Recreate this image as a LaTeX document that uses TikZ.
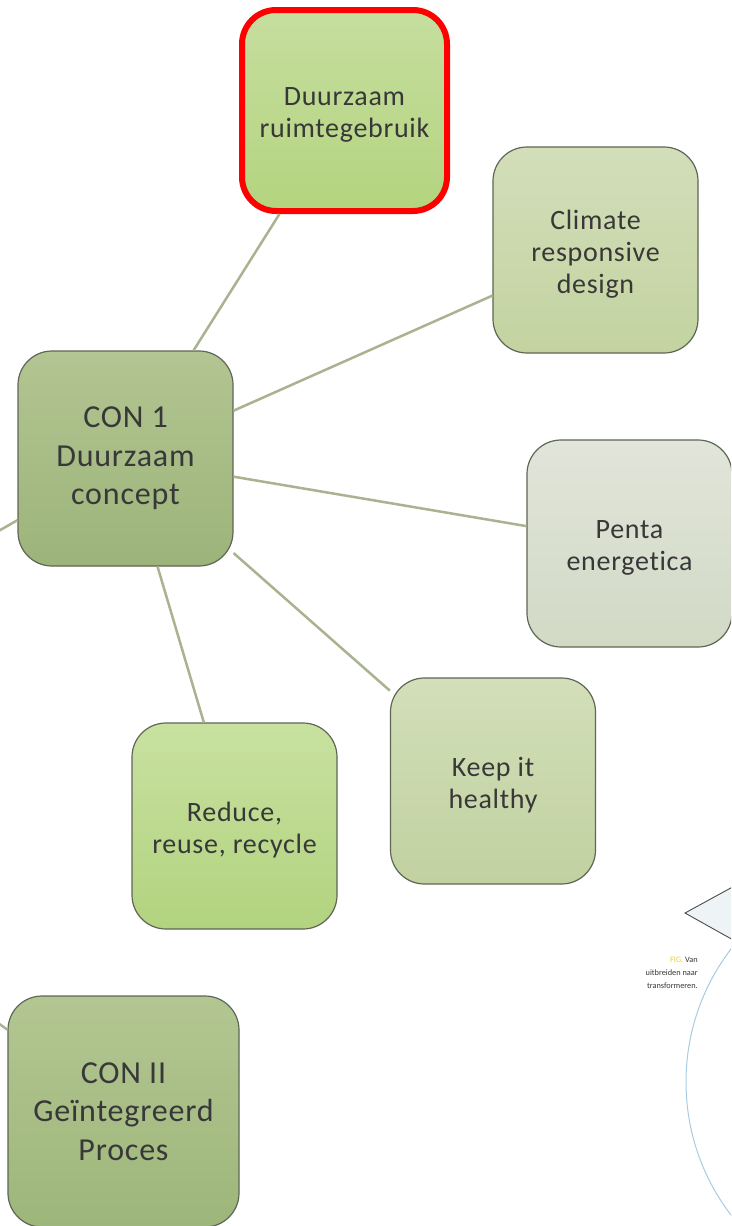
\documentclass[tikz,border=0pt]{standalone}
\usepackage{fontspec}
\setmainfont[LetterSpace=2.5,Ligatures=NoCommon]{Carlito}
\newfontfamily\figfont{Carlito}
\definecolor{txt}{HTML}{383838}
\definecolor{edge}{HTML}{5E6656}
\definecolor{conn}{HTML}{A9B38F}
\definecolor{arcblue}{HTML}{A8CCE0}
\definecolor{figyellow}{HTML}{F0D020}
\newcommand{\pushdown}{\rule{0pt}{27pt}}
\begin{document}
\begin{tikzpicture}[x=1pt,y=-1pt,
  box/.style={draw=edge, line width=1.2pt, rounded corners=34pt, minimum width=205pt, minimum height=206pt,
    text=txt, align=center, inner sep=0pt, font=\fontsize{28}{32}\selectfont},
  bigbox/.style={box, font=\fontsize{32}{38.5}\selectfont},
  link/.style={draw=conn, line width=2.5pt}]
\clip (0,0) rectangle (731,1226);
\fill[white] (0,0) rectangle (731,1226);
\node[box, draw=red, line width=6pt, minimum width=205pt, minimum height=201pt, top color={rgb,255:red,198;green,222;blue,159}, bottom color={rgb,255:red,180;green,212;blue,127}] (dr) at (344.5,110.5) {\pushdown Duurzaam\\ruimtegebruik};
\node[box, top color={rgb,255:red,211;green,222;blue,186}, bottom color={rgb,255:red,195;green,211;blue,160}] (cl) at (595.5,250) {\pushdown Climate\\responsive\\design};
\node[bigbox, minimum width=215pt, minimum height=215pt, top color={rgb,255:red,179;green,197;blue,146}, bottom color={rgb,255:red,156;green,180;blue,122}] (c1) at (125.5,458.5) {CON 1\\Duurzaam\\concept};
\node[box, minimum height=207pt, top color={rgb,255:red,225;green,229;blue,218}, bottom color={rgb,255:red,210;green,217;blue,197}] (pe) at (629.5,543.5) {\pushdown Penta\\energetica};
\node[box, top color={rgb,255:red,210;green,223;blue,185}, bottom color={rgb,255:red,193;green,209;blue,160}] (kh) at (493,781) {\pushdown Keep it\\healthy};
\node[box, top color={rgb,255:red,200;green,225;blue,160}, bottom color={rgb,255:red,178;green,211;blue,127}] (rr) at (234.5,826) {\pushdown Reduce,\\reuse, recycle};
\node[bigbox, minimum width=231pt, minimum height=231pt, top color={rgb,255:red,179;green,198;blue,146}, bottom color={rgb,255:red,157;green,182;blue,122}] (c2) at (123.5,1111.5) {CON II\\Geïntegreerd\\Proces};
\coordinate (offA) at (-100,587.5);
\coordinate (offB) at (-100,953.8);
\draw[link] (c1) -- (dr);
\draw[link] (c1) -- (cl);
\draw[link] (c1) -- (pe);
\draw[link] (c1) -- (kh);
\draw[link] (c1) -- (rr);
\draw[link] (c1) -- (offA);
\draw[link] (c2) -- (offB);
\draw[draw=black!70, fill={rgb,255:red,238;green,243;blue,246}, line width=0.9pt] (760,872) -- (685,913) -- (760,955);
\draw[arcblue, line width=1pt] (905,1082) circle (219);
\node[anchor=north east, align=right, inner sep=0pt, text=txt, font=\figfont\fontsize{8.3}{13}\selectfont] (fig) at (698,957) {\textcolor{figyellow}{FIG.} Van\\uitbreiden naar\\transformeren.};
\end{tikzpicture}
\end{document}
